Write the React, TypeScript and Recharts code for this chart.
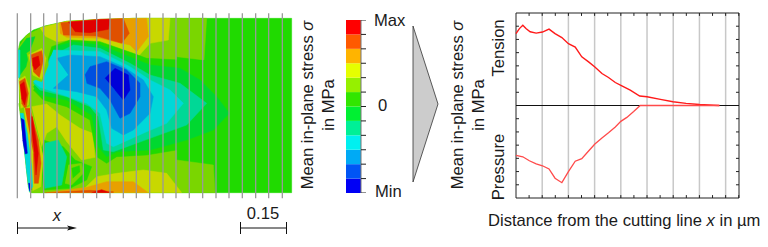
import React from 'react';
import {
  Bar, BarChart, ComposedChart, Line, ReferenceLine, Scatter, XAxis, YAxis,
} from 'recharts';

const font = '"Liberation Sans", Arial, sans-serif';

// stress curves, x in grid divisions, y in tick divisions
const tensionX = [0, 0.13, 0.26, 0.38, 0.54, 0.77, 1.01, 1.26, 1.49, 1.75, 2, 2.26, 2.51, 2.77, 3.01, 3.28, 3.53, 3.79, 4.04, 4.36, 4.72, 5, 5.51, 5.99, 6.49, 7, 7.55, 7.76];
const tensionY = [2.72, 2.91, 3.04, 2.91, 2.79, 2.74, 2.78, 2.89, 2.72, 2.57, 2.34, 2.21, 1.84, 1.65, 1.46, 1.21, 1.06, 0.87, 0.74, 0.58, 0.36, 0.33, 0.23, 0.14, 0.08, 0.04, 0.01, 0];
const pressureX = [0, 0.26, 0.51, 0.77, 1.01, 1.26, 1.49, 1.75, 2, 2.26, 2.51, 2.77, 3.01, 3.28, 3.53, 3.79, 4, 4.23, 4.49, 4.74, 7.76];
const pressureY = [-1.89, -1.94, -2.09, -2.21, -2.28, -2.4, -2.75, -2.92, -2.5, -2.11, -2.01, -1.72, -1.46, -1.23, -1.03, -0.81, -0.6, -0.45, -0.23, 0, 0];
const gridX = [1, 2, 3, 4, 5, 6, 7, 8];
const xTicks = [0.5, 1, 1.5, 2, 2.5, 3, 3.5, 4, 4.5, 5, 5.5, 6, 6.5, 7, 7.5, 8, 8.5];
const yTicks = [-3, -2.5, -2, -1.5, -1, -0.5, 0.5, 1, 1.5, 2, 2.5, 3];
const xMax = 8.51;
const yMax = 3.5;

// colour scale, top to bottom
const levelColors = ['#ff0000', '#ff5a00', '#ffb400', '#e6ff00', '#96f000', '#32e600', '#00f032', '#00f096', '#00f0f0', '#00aaf5', '#0055f5', '#0000f5'];
const levelTicks = [0, 1, 2, 3, 4, 5, 6, 7, 8, 9, 10, 11, 12];

// contour map: [colour, outline] painted in order, outlines in map units
type Pt = [number, number];
const RED = '#e00000', DRED = '#e05000', ORG = '#e8a000', YEL = '#c8d800', YGR = '#7ad600', GR1 = '#20da00', GR2 = '#00d830', SEA = '#00d896', CYA = '#00d8d8', LBL = '#00a0e0', BLU = '#0050e0', DBL = '#0000d8';

const contours: [string, Pt[]][] = [
  [GR1, [[55, 150], [60, 125], [80, 105], [100, 90], [135, 78], [200, 64], [300, 58], [400, 55], [875, 55], [875, 578], [90, 578], [85, 560], [70, 420], [57, 310]]],
  [YGR, [[57, 140], [80, 105], [135, 78], [200, 64], [400, 55], [620, 55], [612, 180], [530, 170], [530, 480], [640, 495], [645, 578], [95, 578], [85, 555], [70, 420], [57, 310]]],
  [YEL, [[120, 84], [200, 64], [400, 55], [510, 55], [505, 120], [450, 130], [410, 175], [300, 130], [210, 120], [170, 125], [135, 108]]],
  [ORG, [[178, 70], [300, 58], [440, 55], [445, 110], [410, 155], [390, 135], [300, 115], [200, 112], [180, 100]]],
  [DRED, [[182, 68], [300, 58], [370, 56], [388, 100], [365, 130], [290, 108], [190, 105]]],
  [RED, [[205, 66], [300, 59], [330, 58], [325, 88], [270, 98], [225, 95]]],
  [YEL, [[240, 578], [290, 530], [350, 520], [430, 510], [500, 520], [545, 578]]],
  [ORG, [[140, 578], [260, 562], [320, 545], [400, 545], [445, 578]]],
  [DRED, [[135, 578], [270, 571], [340, 575], [340, 578]]],
  [RED, [[275, 578], [305, 569], [330, 578]]],
  [YEL, [[95, 320], [140, 312], [180, 345], [240, 385], [278, 400], [285, 472], [245, 480], [200, 425], [170, 380], [140, 400], [125, 440]]],
  [GR1, [[130, 420], [190, 440], [225, 480], [275, 500], [260, 540], [210, 565], [130, 570], [122, 480]]],
  [YGR, [[205, 495], [245, 490], [250, 520], [215, 555], [195, 550]]],
  [GR1, [[215, 505], [238, 497], [240, 515], [218, 535]]],
  [SEA, [[135, 430], [175, 420], [200, 470], [185, 555], [135, 565], [130, 500]]],
  [GR1, [[130, 225], [155, 140], [210, 120], [300, 125], [400, 160], [440, 175], [540, 180], [615, 182], [650, 250], [695, 335], [660, 390], [610, 420], [530, 450], [440, 465], [350, 470], [320, 490], [290, 470], [270, 360], [200, 320], [130, 300], [100, 270]]],
  [GR2, [[140, 200], [165, 140], [220, 125], [300, 135], [400, 175], [450, 195], [540, 205], [600, 240], [650, 290], [688, 340], [640, 390], [560, 420], [450, 450], [350, 455], [320, 470], [295, 440], [275, 345], [200, 300], [120, 285], [100, 260]]],
  [SEA, [[150, 170], [220, 135], [300, 145], [390, 190], [450, 225], [540, 250], [620, 310], [560, 375], [450, 415], [340, 455], [310, 450], [295, 350], [270, 320], [200, 290], [120, 270], [100, 250], [130, 220]]],
  [CYA, [[160, 150], [300, 155], [390, 200], [450, 240], [510, 270], [550, 310], [500, 370], [440, 395], [340, 440], [320, 430], [300, 340], [260, 310], [190, 285], [120, 262], [100, 245], [135, 215]]],
  [LBL, [[170, 175], [210, 165], [300, 170], [370, 200], [430, 240], [460, 290], [450, 340], [400, 390], [370, 405], [335, 385], [320, 330], [290, 290], [230, 275], [160, 265], [205, 225]]],
  [BLU, [[255, 225], [270, 200], [320, 185], [380, 210], [420, 250], [420, 290], [390, 340], [360, 355], [330, 300], [300, 265], [260, 250]]],
  [DBL, [[315, 235], [345, 205], [385, 225], [390, 270], [370, 300], [345, 270]]],
  [GR2, [[58, 145], [80, 115], [105, 110], [90, 150], [78, 200], [60, 225]]],
  [CYA, [[55, 150], [60, 150], [60, 230], [55, 235]]],
  [YGR, [[80, 160], [110, 140], [140, 150], [145, 195], [125, 245], [95, 235]]],
  [YEL, [[85, 165], [125, 145], [138, 175], [125, 238], [98, 225]]],
  [DRED, [[92, 165], [125, 152], [130, 180], [118, 232], [100, 215]]],
  [RED, [[97, 175], [115, 168], [120, 195], [105, 210], [98, 195]]],
  [YEL, [[56, 240], [75, 228], [90, 270], [85, 315], [62, 325]]],
  [DRED, [[58, 245], [75, 235], [85, 280], [78, 330], [65, 310]]],
  [RED, [[60, 255], [72, 245], [80, 285], [74, 315], [65, 295]]],
  [YEL, [[72, 325], [90, 320], [130, 470], [122, 560], [98, 572]]],
  [DRED, [[75, 325], [90, 325], [115, 420], [123, 490], [115, 550], [103, 550], [100, 460]]],
  [RED, [[90, 350], [97, 350], [115, 460], [108, 525], [103, 460]]],
  [CYA, [[60, 340], [70, 340], [82, 400], [95, 500], [98, 560], [88, 575], [78, 500]]],
  [DBL, [[63, 355], [72, 360], [82, 460], [76, 462], [68, 420]]],
  [DBL, [[85, 550], [92, 550], [93, 570], [88, 572]]],
];

const sectionX = [52, 92, 131, 171, 211, 250, 290, 330, 370, 409, 449, 489, 528, 568, 608, 648, 687, 727, 767, 806, 847];
const sectionY = [40, 595];

const tensionData = tensionX.map((x, i) => ({ x, y: tensionY[i] }));
const pressureData = pressureX.map((x, i) => ({ x, y: pressureY[i] }));
const levelRow = [Object.fromEntries(levelColors.map((_, i) => [`l${i}`, 1]))];

const NoMark = () => <g />;

const StressMap = () => (
  <div style={{ position: 'absolute', left: 0, top: 0, filter: 'blur(0.5px)' }}>
    <ComposedChart width={300} height={247} margin={{ top: 0, right: 0, bottom: 0, left: 0 }}>
      <XAxis type="number" dataKey="x" domain={[0, 900]} hide />
      <YAxis type="number" dataKey="y" domain={[0, 741]} reversed hide />
      {contours.map(([color, outline], i) => (
        <Scatter
          key={i}
          data={outline.map(([x, y]) => ({ x, y }))}
          dataKey="y"
          isAnimationActive={false}
          shape={NoMark}
          line={{ fill: color, stroke: color, strokeWidth: 0.5 }}
          lineJointType="cardinalClosed"
        />
      ))}
      {sectionX.map((x) => (
        <Scatter
          key={x}
          data={sectionY.map((y) => ({ x, y }))}
          dataKey="y"
          isAnimationActive={false}
          shape={NoMark}
          line={{ stroke: '#999999', strokeWidth: 1.3 }}
        />
      ))}
    </ComposedChart>
  </div>
);

const ColorBar = () => (
  <div style={{ position: 'absolute', left: 346, top: 20 }}>
    <BarChart width={21} height={173} data={levelRow} barCategoryGap={0} margin={{ top: 0, right: 0, bottom: 0, left: 0 }}>
      <XAxis dataKey={() => 'scale'} hide />
      <YAxis
        type="number"
        orientation="right"
        domain={[0, 12]}
        ticks={levelTicks}
        interval={0}
        width={6}
        tick={NoMark}
        tickSize={5}
        tickLine={{ stroke: '#222' }}
        axisLine={{ stroke: '#777' }}
      />
      {levelColors.map((c, i) => (
        <Bar key={i} dataKey={`l${11 - i}`} stackId="a" fill={levelColors[11 - i]} isAnimationActive={false} />
      ))}
    </BarChart>
  </div>
);

const frame = { stroke: '#222', strokeWidth: 1 };

const StressCurves = () => (
  <div style={{ position: 'absolute', left: 511, top: 8 }}>
    <ComposedChart width={233} height={195} margin={{ top: 5, right: 5, bottom: 5, left: 5 }}>
      <XAxis type="number" dataKey="x" domain={[0, xMax]} hide />
      <YAxis type="number" domain={[-yMax, yMax]} hide />
      {gridX.map((x) => (
        <ReferenceLine key={x} x={x} stroke="#c8c8c8" strokeWidth={1.5} />
      ))}
      <ReferenceLine x={0} {...frame} />
      <ReferenceLine x={xMax} {...frame} />
      <ReferenceLine y={yMax} {...frame} />
      <ReferenceLine y={-yMax} {...frame} />
      {xTicks.map((x) => (
        <ReferenceLine key={`b${x}`} segment={[{ x, y: -yMax }, { x, y: -yMax + 0.11 }]} {...frame} />
      ))}
      {xTicks.map((x) => (
        <ReferenceLine key={`t${x}`} segment={[{ x, y: yMax }, { x, y: yMax - 0.11 }]} {...frame} />
      ))}
      {yTicks.map((y) => (
        <ReferenceLine key={`l${y}`} segment={[{ x: 0, y }, { x: 0.115, y }]} {...frame} />
      ))}
      {yTicks.map((y) => (
        <ReferenceLine key={`r${y}`} segment={[{ x: xMax, y }, { x: xMax - 0.115, y }]} {...frame} />
      ))}
      <ReferenceLine y={0} stroke="#111" strokeWidth={1} />
      <Line data={tensionData} dataKey="y" type="linear" stroke="#ff1a1a" strokeWidth={1.4} dot={false} isAnimationActive={false} />
      <Line data={pressureData} dataKey="y" type="linear" stroke="#ff4a4a" strokeWidth={1.3} dot={false} isAnimationActive={false} />
    </ComposedChart>
  </div>
);

// labels, scale bars and the grey wedge between the panels
const Annotations = () => (
  <svg width={768} height={247} style={{ position: 'absolute', left: 0, top: 0, pointerEvents: 'none' }} fontFamily={font} fill="#1a1a1a" fontSize={16.6}>
    <polygon points="413,26 438,104 413,182" fill="#cccccc" stroke="#333" strokeWidth={0.8} />
    <text x={57} y={221} fontStyle="italic" textAnchor="middle">x</text>
    <text x={263} y={219} textAnchor="middle">0.15</text>
    <g stroke="#111" strokeWidth={1}>
      <line x1={17.5} y1={222} x2={17.5} y2={234} />
      <line x1={17.5} y1={228} x2={72} y2={228} />
      <line x1={240.5} y1={222} x2={240.5} y2={234} />
      <line x1={286.5} y1={222} x2={286.5} y2={234} />
      <line x1={240.5} y1={228} x2={286.5} y2={228} />
    </g>
    <polygon points="77,228 67,225.5 69,228 67,230.5" fill="#111" />
    <text x={374} y={26}>Max</text>
    <text x={378} y={111}>0</text>
    <text x={375} y={197}>Min</text>
    <text transform="translate(313 105) rotate(-90)" textAnchor="middle">Mean in-plane stress <tspan fontStyle="italic">σ</tspan></text>
    <text transform="translate(334 105) rotate(-90)" textAnchor="middle">in MPa</text>
    <text transform="translate(463 105) rotate(-90)" textAnchor="middle">Mean in-plane stress <tspan fontStyle="italic">σ</tspan></text>
    <text transform="translate(484 105) rotate(-90)" textAnchor="middle">in MPa</text>
    <text transform="translate(504 48) rotate(-90)" textAnchor="middle">Tension</text>
    <text transform="translate(504 167) rotate(-90)" textAnchor="middle">Pressure</text>
    <text x={488} y={226}>Distance from the cutting line <tspan fontStyle="italic">x</tspan> in µm</text>
  </svg>
);

export default function App() {
  return (
    <div style={{ position: 'absolute', left: 0, top: 0, width: 768, height: 247, background: '#fff', overflow: 'hidden' }}>
      <StressMap />
      <ColorBar />
      <StressCurves />
      <Annotations />
    </div>
  );
}
